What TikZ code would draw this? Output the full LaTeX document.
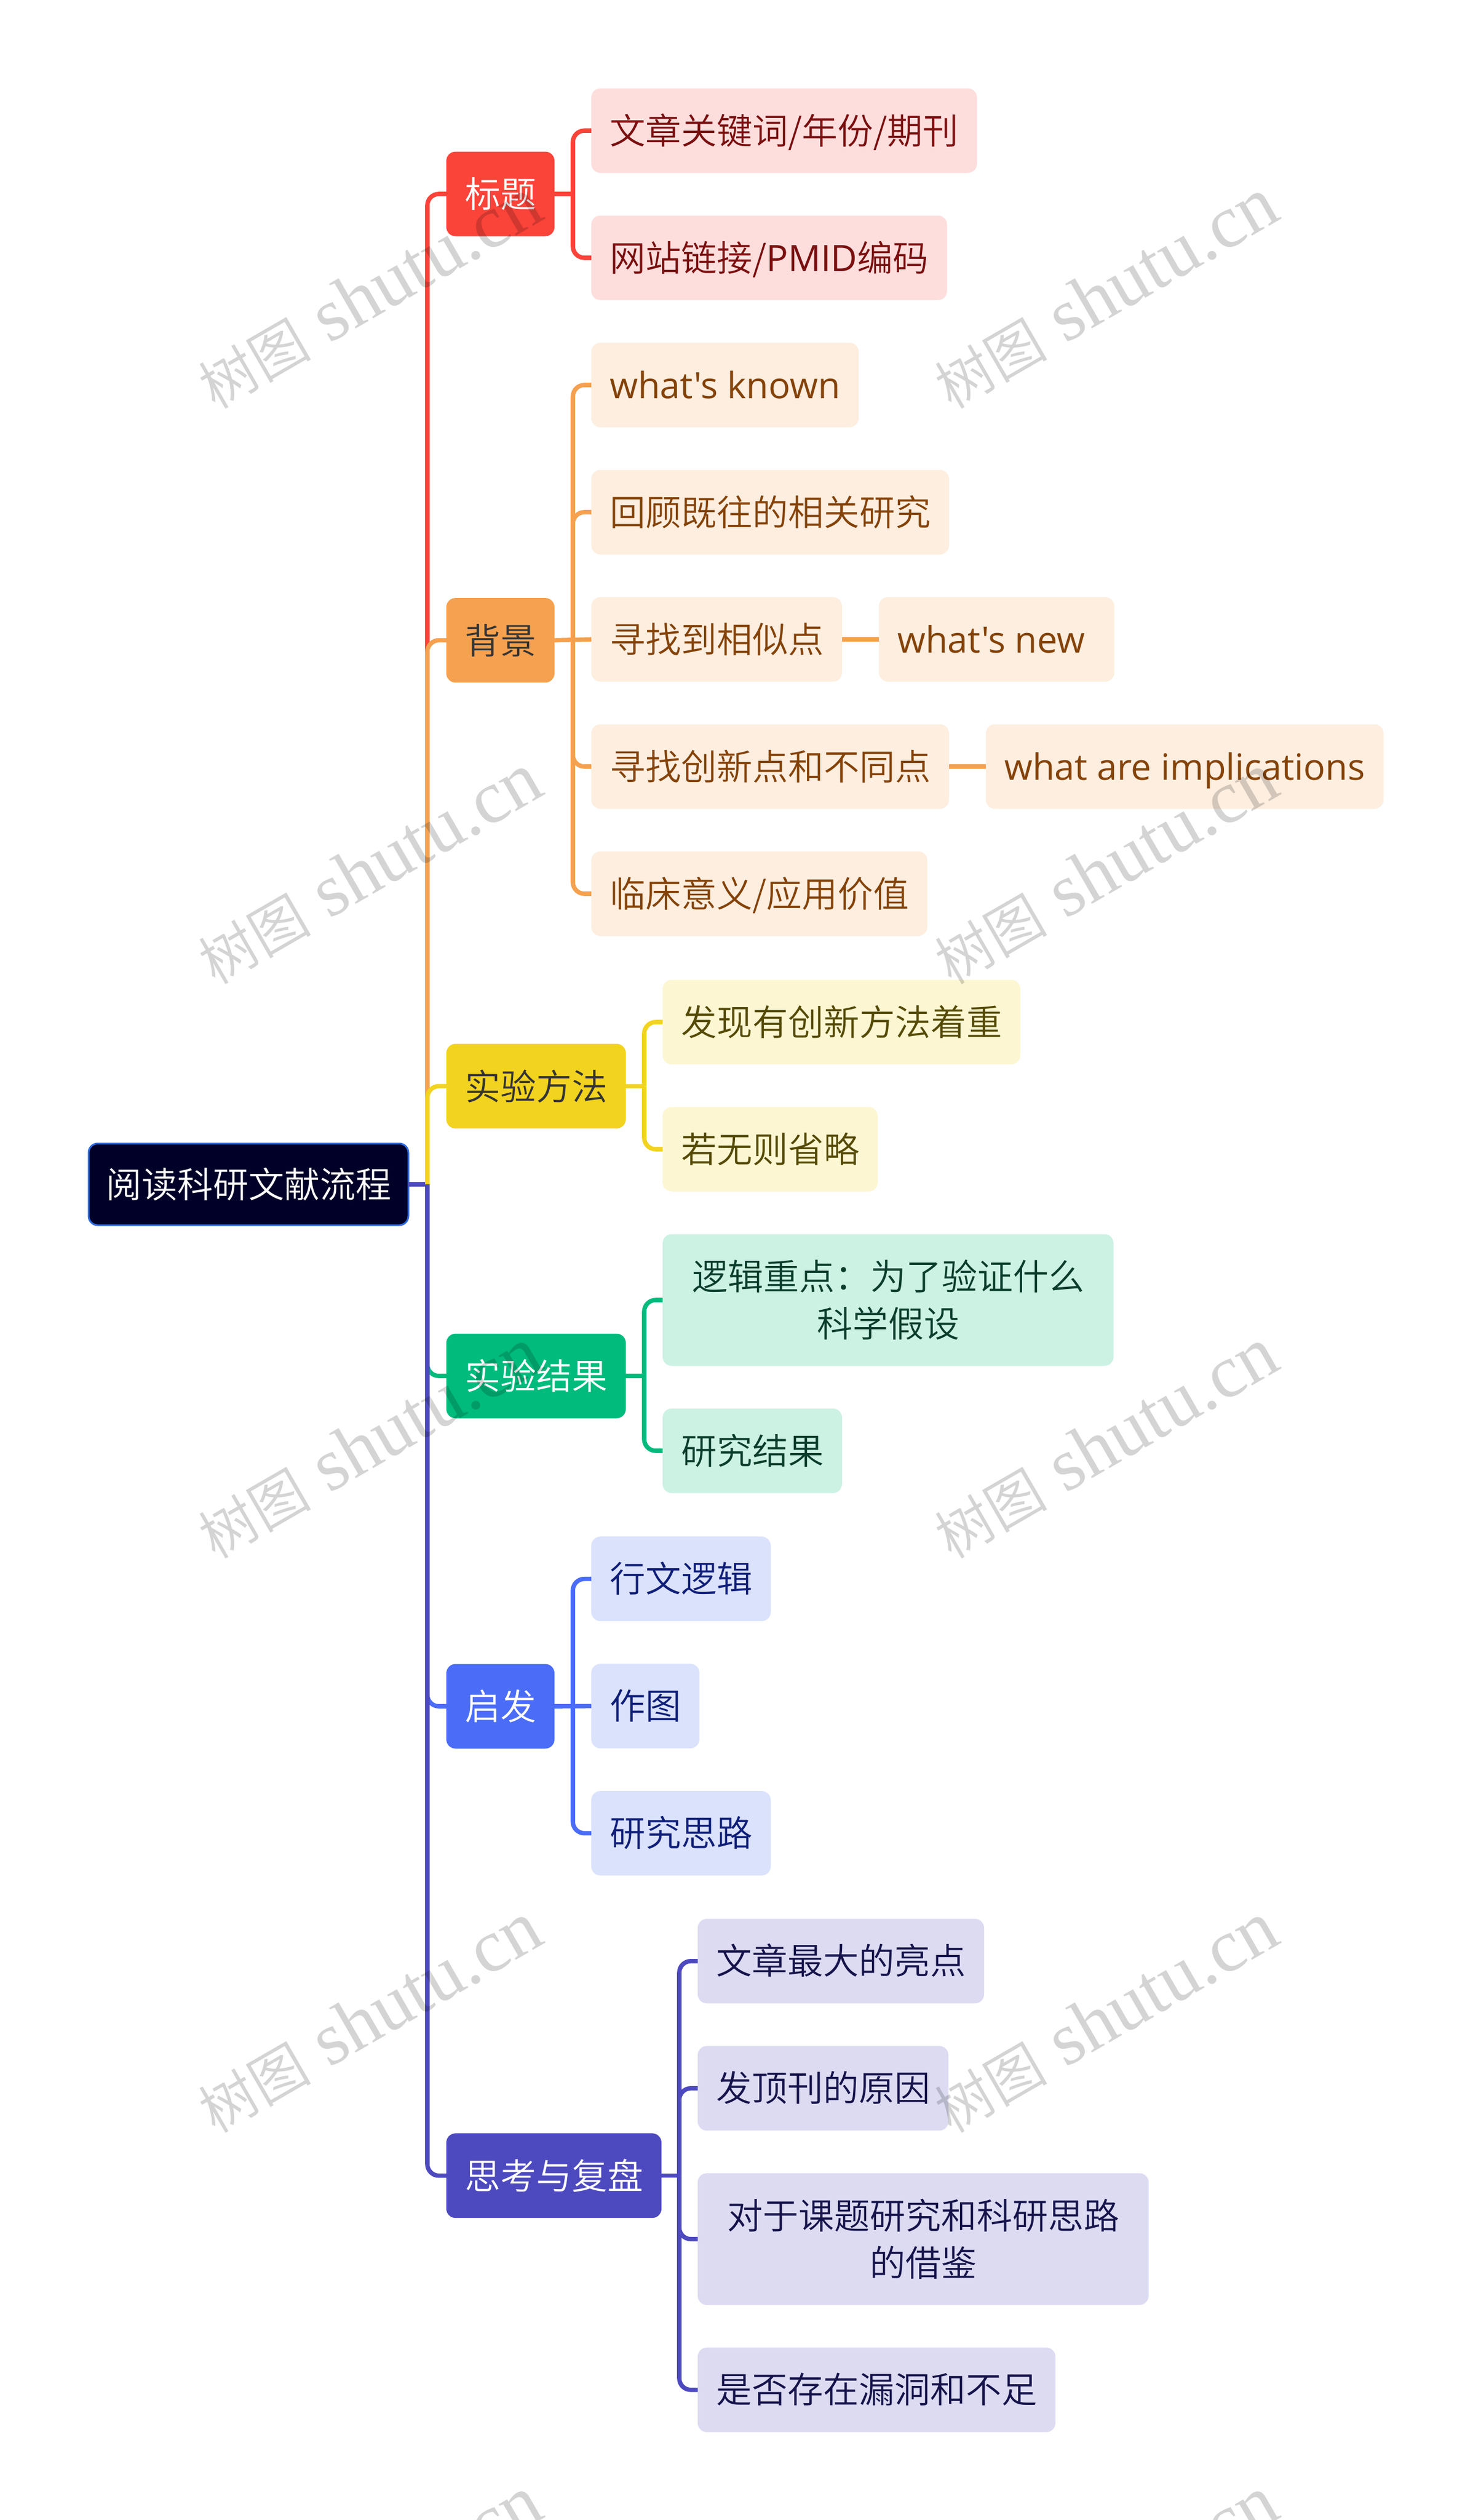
\documentclass[tikz,border=0pt]{standalone}
\usepackage{fontspec}
\setmainfont{Noto Sans CJK SC}[UprightFont=* DemiLight]
\newfontfamily\markfont{Liberation Serif}
\newfontfamily\latfont{Open Sans}
\newcommand{\lat}[1]{{\latfont\fontsize{31.5}{41}\selectfont #1}}
\usetikzlibrary{calc,positioning}

\definecolor{rootfill}{HTML}{000028}
\definecolor{rootline}{HTML}{2F6BE0}
\definecolor{redmain}{HTML}{FA4339}
\definecolor{redsoft}{HTML}{FDDEDD}
\definecolor{redtext}{HTML}{7A0F0F}
\definecolor{orangemain}{HTML}{F5A14F}
\definecolor{orangesoft}{HTML}{FDEEDF}
\definecolor{orangetext}{HTML}{844208}
\definecolor{yellowmain}{HTML}{F2D31F}
\definecolor{yellowsoft}{HTML}{FCF6D2}
\definecolor{yellowtext}{HTML}{544A05}
\definecolor{greenmain}{HTML}{00BB7C}
\definecolor{greensoft}{HTML}{CCF2E4}
\definecolor{greentext}{HTML}{0B3D2C}
\definecolor{bluemain}{HTML}{4A6CF7}
\definecolor{bluesoft}{HTML}{DBE2FC}
\definecolor{bluetext}{HTML}{0F1F78}
\definecolor{indigomain}{HTML}{4D49BE}
\definecolor{indigosoft}{HTML}{DCDBF2}
\definecolor{indigotext}{HTML}{15134A}

\tikzset{
  box/.style={rectangle, rounded corners=8pt, inner xsep=16pt, inner ysep=0pt, outer sep=0pt, align=center, font=\fontsize{31}{41}\selectfont},
  branch/.style={box, anchor=west, minimum height=73.5pt, fill=#1},
  leaf/.style={box, minimum height=73.5pt, text height=27pt, text depth=4pt},
  tallleaf/.style={box, minimum height=114.5pt, minimum width=392pt},
  link/.style={line width=3.8pt, rounded corners=10pt},
  stub/.style={line width=3.8pt},
  redleaf/.style={fill=redsoft, text=redtext},
  orangeleaf/.style={fill=orangesoft, text=orangetext},
  yellowleaf/.style={fill=yellowsoft, text=yellowtext},
  greenleaf/.style={fill=greensoft, text=greentext},
  blueleaf/.style={fill=bluesoft, text=bluetext},
  indigoleaf/.style={fill=indigosoft, text=indigotext},
  wmark/.style={rotate=30, text=black, opacity=.17, font=\markfont\fontsize{65}{65}\selectfont}
}

\begin{document}
\begin{tikzpicture}
  \useasboundingbox (0,0) rectangle (1280pt,-2189.5pt);

  \node[box, anchor=west, inner xsep=15pt, fill=rootfill, draw=rootline, line width=1.5pt, text=white, minimum height=71pt] (root) at (77pt,-1029pt) {阅读科研文献流程};
  \coordinate[right=16.5pt of root.east] (trunk);

  \node[branch=redmain, text=white] (title) at (388pt,-168.5pt) {标题};
  \node[branch=orangemain, text=black!80] (background) at (388pt,-556.3pt) {背景};
  \node[branch=yellowmain, text=black!80] (method) at (388pt,-943.7pt) {实验方法};
  \node[branch=greenmain, text=white] (result) at (388pt,-1195.5pt) {实验结果};
  \node[branch=bluemain, text=white] (insight) at (388pt,-1482.5pt) {启发};
  \node[branch=indigomain, text=white] (review) at (388pt,-1890.3pt) {思考与复盘};

  \node[leaf, redleaf, anchor=west] (t1) at (514pt,-113.5pt) {文章关键词/年份/期刊};
  \node[leaf, redleaf, below=37pt of t1.south west, anchor=north west] (t2) {网站链接/\lat{PMID}编码};

  \node[leaf, orangeleaf, below=37pt of t2.south west, anchor=north west] (b1) {\lat{what's known}};
  \node[leaf, orangeleaf, below=37pt of b1.south west, anchor=north west] (b2) {回顾既往的相关研究};
  \node[leaf, orangeleaf, below=37pt of b2.south west, anchor=north west] (b3) {寻找到相似点};
  \node[leaf, orangeleaf, right=32pt of b3] (b3x) {\lat{what's new}\hspace{9.5pt}};
  \node[leaf, orangeleaf, below=37pt of b3.south west, anchor=north west] (b4) {寻找创新点和不同点};
  \node[leaf, orangeleaf, right=32pt of b4] (b4x) {\lat{what are implications}};
  \node[leaf, orangeleaf, below=37pt of b4.south west, anchor=north west] (b5) {临床意义/应用价值};

  \node[leaf, yellowleaf, anchor=west] (m1) at (576pt,-888pt) {发现有创新方法着重};
  \node[leaf, yellowleaf, below=37pt of m1.south west, anchor=north west] (m2) {若无则省略};

  \node[tallleaf, greenleaf, below=37pt of m2.south west, anchor=north west] (r1) {逻辑重点：为了验证什么\\科学假设};
  \node[leaf, greenleaf, below=37pt of r1.south west, anchor=north west] (r2) {研究结果};

  \node[leaf, blueleaf, anchor=west] (i1) at (514pt,-1371.8pt) {行文逻辑};
  \node[leaf, blueleaf, below=37pt of i1.south west, anchor=north west] (i2) {作图};
  \node[leaf, blueleaf, below=37pt of i2.south west, anchor=north west] (i3) {研究思路};

  \node[leaf, indigoleaf, anchor=west] (v1) at (606.5pt,-1703.9pt) {文章最大的亮点};
  \node[leaf, indigoleaf, below=37pt of v1.south west, anchor=north west] (v2) {发顶刊的原因};
  \node[tallleaf, indigoleaf, below=37pt of v2.south west, anchor=north west] (v3) {对于课题研究和科研思路\\的借鉴};
  \node[leaf, indigoleaf, below=37pt of v3.south west, anchor=north west] (v4) {是否存在漏洞和不足};

  \coordinate (st) at ($(title.east -| t1.west)+(-16pt,0)$);
  \coordinate (sb) at ($(background.east -| b1.west)+(-16pt,0)$);
  \coordinate (sm) at ($(method.east -| m1.west)+(-16pt,0)$);
  \coordinate (sr) at ($(result.east -| r1.west)+(-16pt,0)$);
  \coordinate (si) at ($(insight.east -| i1.west)+(-16pt,0)$);
  \coordinate (sv) at ($(review.east -| v1.west)+(-16pt,0)$);

  % trunk
  \draw[stub, indigomain] (root.east) -- (trunk);
  \draw[link, redmain] (trunk) |- (title.west);
  \draw[link, orangemain] (trunk) |- (background.west);
  \draw[link, yellowmain] (trunk) |- (method.west);
  \draw[link, greenmain] (trunk) |- (result.west);
  \draw[link, bluemain] (trunk) |- (insight.west);
  \draw[link, indigomain] (trunk) |- (review.west);

  % branches
  \draw[stub, redmain] (title.east) -- (st);
  \foreach \kid in {t1,t2} \draw[link, redmain] (st) |- (\kid.west);

  \draw[stub, orangemain] (background.east) -- (b3.west);
  \foreach \kid in {b1,b2,b4,b5} \draw[link, orangemain] (sb) |- (\kid.west);
  \draw[stub, orangemain] (b3.east) -- (b3x.west);
  \draw[stub, orangemain] (b4.east) -- (b4x.west);

  \draw[stub, yellowmain] (method.east) -- (sm);
  \foreach \kid in {m1,m2} \draw[link, yellowmain] (sm) |- (\kid.west);

  \draw[stub, greenmain] (result.east) -- (sr);
  \foreach \kid in {r1,r2} \draw[link, greenmain] (sr) |- (\kid.west);

  \draw[stub, bluemain] (insight.east) -- (i2.west);
  \foreach \kid in {i1,i3} \draw[link, bluemain] (si) |- (\kid.west);

  \draw[stub, indigomain] (review.east) -- (sv);
  \foreach \kid in {v1,v2,v3,v4} \draw[link, indigomain] (sv) |- (\kid.west);

  % watermark
  \foreach \wx/\wy [count=\wi] in {321/255,961/255,321/755,961/755,321/1254,961/1254,321/1753,961/1753,321/2252,961/2252}
    \node[wmark] (wm\wi) at (\wx pt,-\wy pt) {{\setmainfont{Noto Sans CJK SC}[UprightFont=* DemiLight]\fontsize{49}{49}\selectfont 树图} shutu.cn};
\end{tikzpicture}
\end{document}
